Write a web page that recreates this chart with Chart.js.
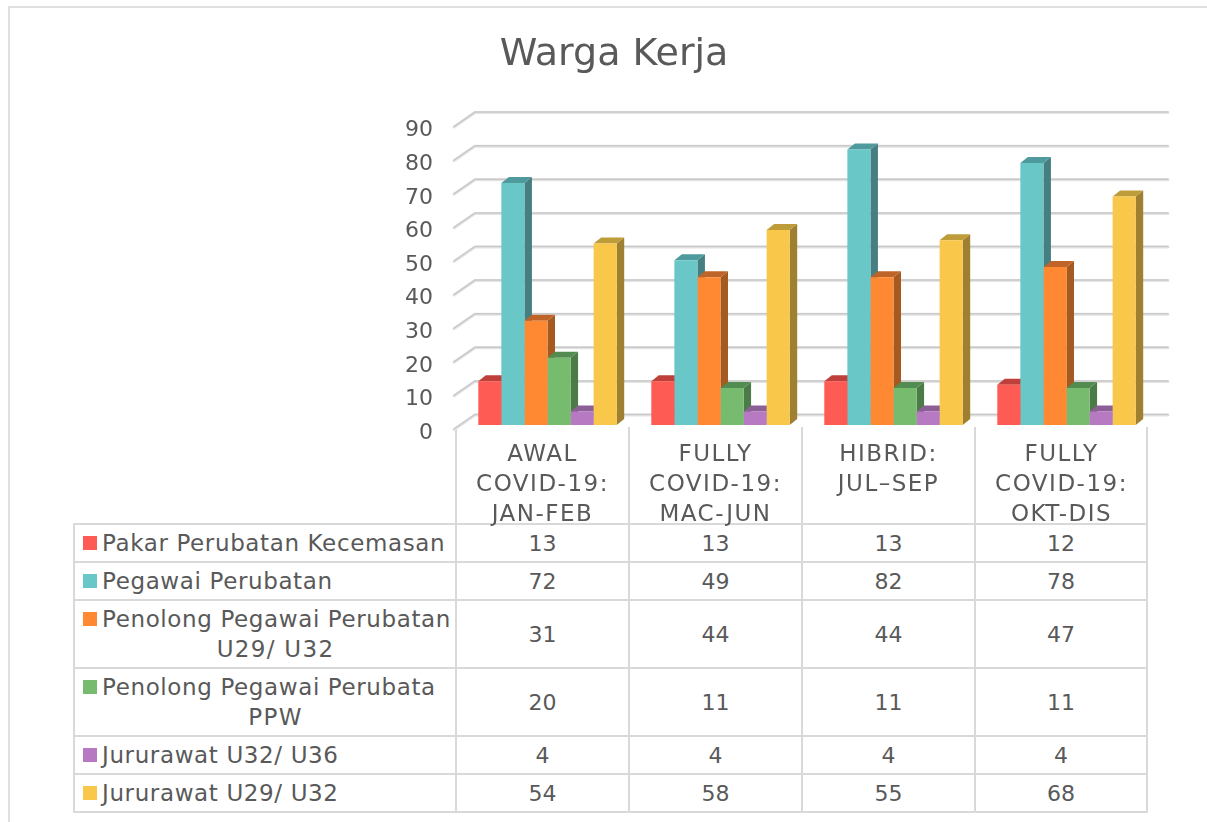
<!DOCTYPE html>
<html>
<head>
<meta charset="utf-8">
<script src="https://cdn.jsdelivr.net/npm/chart.js@4"></script>
<style>
    html, body { margin: 0; padding: 0; background: #fff; }
    #frame { position: absolute; left: 8px; top: 6px; width: 1199px; height: 816px; border-left: 2px solid #e0e0e0; border-top: 2px solid #e0e0e0; box-sizing: border-box; }
    #chartNode { position: absolute; left: 0; top: 0; z-index: 2; }
    #dataTable { position: absolute; left: 73px; top: 427px; width: 1073px; border-collapse: collapse; table-layout: fixed; z-index: 1;
        font-family: "DejaVu Sans", sans-serif; font-size: 22px; color: #595959; }
    #dataTable td { border: 2px solid #d9d9d9; padding: 2px 0 0 0; text-align: center; line-height: 30px; box-sizing: border-box; }
    #dataTable td.blank { border-left: none; border-top: none; }
    #dataTable tr.head td { height: 97px; border-top: none; }
    #dataTable td.name { text-align: left; position: relative; padding: 0 0 0 27px; white-space: nowrap; font-size: 23px; letter-spacing: 0.62px; }
    #dataTable .wrap { text-align: center; letter-spacing: 1.3px; margin-right: 6px; }
    #dataTable .swatch { position: absolute; left: 8px; top: 11px; width: 14px; height: 14px; }
</style>
</head>
<body>
<div id="frame"></div>
<table id="dataTable"></table>
<canvas id="chartNode" width="1207" height="822"></canvas>
<script>
const titleText = 'Warga Kerja';
const categories = [
    ['AWAL', 'COVID-19:', 'JAN-FEB'],
    ['FULLY', 'COVID-19:', 'MAC-JUN'],
    ['HIBRID:', 'JUL\u2013SEP'],
    ['FULLY', 'COVID-19:', 'OKT-DIS']
];
const seriesNames = [
    ['Pakar Perubatan Kecemasan'],
    ['Pegawai Perubatan'],
    ['Penolong Pegawai Perubatan', 'U29/ U32'],
    ['Penolong Pegawai Perubata', 'PPW'],
    ['Jururawat U32/ U36'],
    ['Jururawat U29/ U32']
];
const pakar = [13, 13, 13, 12];
const pegawai = [72, 49, 82, 78];
const penolongU29 = [31, 44, 44, 47];
const penolongPpw = [20, 11, 11, 11];
const jururawatU32 = [4, 4, 4, 4];
const jururawatU29 = [54, 58, 55, 68];
const seriesValues = [pakar, pegawai, penolongU29, penolongPpw, jururawatU32, jururawatU29];

const frontColors = ['#ff5b55', '#6ac7c8', '#ff8833', '#77bb6f', '#b679c2', '#f9c74a'];
const topColors = ['#bf3f3a', '#4f9a9c', '#bf6428', '#538c50', '#8c5f96', '#bf9c3a'];
const sideColors = ['#a83a36', '#467f81', '#a55a1f', '#4b7c48', '#7a5083', '#9e8030'];
const fontFamily = '"DejaVu Sans", sans-serif';
const textColor = '#595959';

// table under the chart
const table = document.getElementById('dataTable');
const colWidths = [382, 173, 173, 173, 172];
const rowHeights = [38, 38, 68, 68, 38, 38];
let html = '<colgroup>' + colWidths.map(w => '<col style="width:' + w + 'px">').join('') + '</colgroup>';
html += '<tr class="head"><td class="blank"></td>' + categories.map(() => '<td></td>').join('') + '</tr>';
seriesNames.forEach((name, i) => {
    html += '<tr><td class="name" style="height:' + rowHeights[i] + 'px">';
    html += '<span class="swatch" style="background:' + frontColors[i] + '"></span>';
    html += '<div>' + name[0] + '</div>';
    if (name[1]) html += '<div class="wrap">' + name[1] + '</div>';
    html += '</td>';
    seriesValues[i].forEach(v => { html += '<td>' + v + '</td>'; });
    html += '</tr>';
});
table.innerHTML = html;

// side and top faces of the bars, back wall and gridlines
const depthX = 7.5, depthY = 6;
const wallPlugin = {
    id: 'wall',
    beforeDatasetsDraw(chart) {
        const ctx = chart.ctx;
        const y = chart.scales.y;
        ctx.save();
        ctx.lineCap = 'round';
        [['#e4e4e4', 3, 0.5], ['#c9c9c9', 1.5, 0]].forEach(([color, width, shift]) => {
            ctx.strokeStyle = color;
            ctx.lineWidth = width;
            y.ticks.forEach(t => {
                const py = y.getPixelForValue(t.value) + shift;
                ctx.beginPath();
                ctx.moveTo(454, py + 4);
                ctx.lineTo(475, py - 10.5);
                ctx.lineTo(1168, py - 10.5);
                ctx.stroke();
            });
        });
        chart.data.datasets.forEach((ds, i) => {
            chart.getDatasetMeta(i).data.forEach(bar => {
                const left = bar.x - bar.width / 2;
                const right = bar.x + bar.width / 2;
                ctx.fillStyle = sideColors[i];
                ctx.beginPath();
                ctx.moveTo(right, bar.y);
                ctx.lineTo(right + depthX, bar.y - depthY);
                ctx.lineTo(right + depthX, bar.base - depthY);
                ctx.lineTo(right, bar.base);
                ctx.closePath();
                ctx.fill();
                ctx.fillStyle = topColors[i];
                ctx.beginPath();
                ctx.moveTo(left, bar.y);
                ctx.lineTo(left + depthX, bar.y - depthY);
                ctx.lineTo(right + depthX, bar.y - depthY);
                ctx.lineTo(right, bar.y);
                ctx.closePath();
                ctx.fill();
            });
        });
        ctx.restore();
        // x labels are drawn after the datasets (ticks.z), wider like the original
        ctx.letterSpacing = '1.5px';
    }
};

new Chart(document.getElementById('chartNode'), {
    type: 'bar',
    plugins: [wallPlugin],
    data: {
        labels: categories,
        datasets: seriesNames.map((name, i) => ({
            label: name.join(' '),
            data: seriesValues[i],
            backgroundColor: frontColors[i],
            categoryPercentage: 0.8,
            barPercentage: 1
        }))
    },
    options: {
        responsive: false,
        animation: false,
        layout: { padding: { left: 75, right: 54, top: 0, bottom: 0 } },
        plugins: {
            legend: { display: false },
            tooltip: { enabled: false },
            title: {
                display: true,
                text: titleText,
                color: textColor,
                font: { family: fontFamily, size: 38, weight: 'normal' },
                padding: { top: 32, bottom: 45 }
            }
        },
        scales: {
            x: {
                grid: { display: false },
                border: { display: false },
                afterFit: scale => { scale.height = 397; },
                ticks: {
                    color: textColor,
                    font: { family: fontFamily, size: 23, lineHeight: 1.3 },
                    padding: 7,
                    labelOffset: -5,
                    maxRotation: 0,
                    autoSkip: false,
                    z: 1
                }
            },
            y: {
                min: 0,
                max: 90,
                grid: { display: false },
                border: { display: false },
                afterFit: scale => { scale.width = 386; },
                ticks: {
                    stepSize: 10,
                    color: textColor,
                    font: { family: fontFamily, size: 22 },
                    padding: 20,
                    labelOffset: 8
                }
            }
        }
    }
});
</script>
</body>
</html>
